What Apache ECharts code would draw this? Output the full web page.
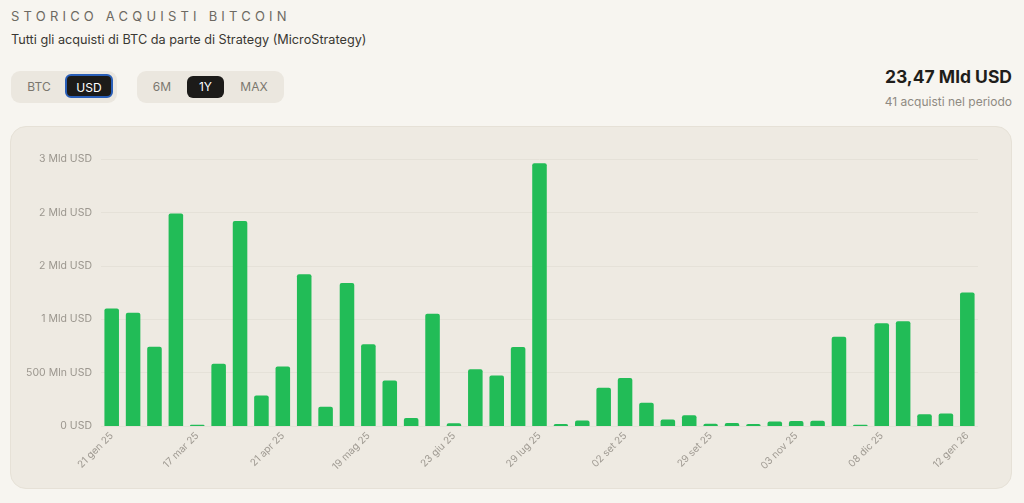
<!DOCTYPE html>
<html><head><meta charset="utf-8">
<script src="https://cdn.jsdelivr.net/npm/echarts@6/dist/echarts.min.js"></script>
<style>
html,body{margin:0;padding:0;width:1024px;height:503px;background:#f7f5f0;overflow:hidden;font-family:Inter,"Noto Sans",sans-serif;}
.abs{position:absolute;}
#title{left:11px;top:8px;font-size:13px;letter-spacing:4.2px;color:#6d6962;}
#sub{left:11px;top:32px;font-size:12.7px;color:#3a3833;}
.grp{position:absolute;top:71px;height:32px;background:#ebe7df;border-radius:9px;}
.btn{position:absolute;top:5px;height:22px;line-height:22px;font-size:12px;color:#7b776f;text-align:center;}
.on{background:#1c1b19;color:#fff;border-radius:6px;}
#total{right:12px;top:66px;font-size:17.5px;font-weight:700;color:#1f1e1b;}
#cnt{right:12px;top:94px;font-size:12px;color:#8f8a82;}
#card{left:10px;top:126px;width:1002px;height:363px;background:#eeeae2;border:1px solid #e6e1d7;border-radius:16px;box-sizing:border-box;}
#chart{left:0;top:0;width:1024px;height:503px;}
</style></head>
<body>
<div class="abs" id="title">STORICO ACQUISTI BITCOIN</div>
<div class="abs" id="sub">Tutti gli acquisti di BTC da parte di Strategy (MicroStrategy)</div>
<div class="grp" style="left:11px;width:106px;">
  <div class="btn" style="left:10px;width:36px;">BTC</div>
  <div class="btn on" style="left:54px;width:48px;top:3px;height:24px;line-height:24px;border:2px solid #2a5fb8;box-sizing:border-box;">USD</div>
</div>
<div class="grp" style="left:137px;width:147px;">
  <div class="btn" style="left:8px;width:34px;">6M</div>
  <div class="btn on" style="left:50px;width:37px;">1Y</div>
  <div class="btn" style="left:98px;width:38px;">MAX</div>
</div>
<div class="abs" id="total">23,47 Mld USD</div>
<div class="abs" id="cnt">41 acquisti nel periodo</div>
<div class="abs" id="card"></div>
<div class="abs" id="chart"></div>
<script>
const dates = ["21 gen 25","27 gen 25","10 feb 25","24 feb 25","17 mar 25","24 mar 25","31 mar 25","14 apr 25","21 apr 25","28 apr 25",
"05 mag 25","12 mag 25","19 mag 25","26 mag 25","02 giu 25","16 giu 25","23 giu 25","30 giu 25","14 lug 25","21 lug 25",
"29 lug 25","11 ago 25","18 ago 25","25 ago 25","02 set 25","08 set 25","15 set 25","22 set 25","29 set 25","13 ott 25",
"20 ott 25","27 ott 25","03 nov 25","10 nov 25","17 nov 25","01 dic 25","08 dic 25","15 dic 25","29 dic 25","05 gen 26","12 gen 26"];
// USD spent per purchase (billions)
const usdBillions = [1.10,1.06,0.742,1.99,0.0107,0.584,1.92,0.286,0.556,1.42,
0.180,1.34,0.765,0.427,0.075,1.05,0.026,0.532,0.473,0.740,
2.46,0.018,0.051,0.357,0.449,0.217,0.060,0.100,0.022,0.027,
0.019,0.043,0.046,0.050,0.836,0.012,0.963,0.980,0.109,0.116,1.25];
const yTicks = [0,5e8,1e9,1.5e9,2e9,2.5e9];

const chart = echarts.init(document.getElementById('chart'), null, {renderer:'canvas'});
chart.setOption({
  backgroundColor:'transparent',
  animation:false,
  grid:{left:101,right:46,top:159,bottom:77},
  xAxis:{type:'category',data:dates,
    axisLine:{show:false},axisTick:{show:false},
    axisLabel:{interval:3,rotate:45,fontSize:10,color:'#a09b93',margin:8,fontFamily:'Inter'}},
  yAxis:{type:'value',min:yTicks[0],max:yTicks[yTicks.length-1],interval:5e8,
    splitLine:{lineStyle:{color:'#e5e1d8',width:1}},
    axisLabel:{fontSize:10.5,color:'#9b968e',margin:9,fontFamily:'Inter',
      formatter:v=>v===0?'0 USD':(v<1e9?Math.round(v/1e6)+' Mln USD':Math.round(v/1e9)+' Mld USD')}},
  series:[{type:'bar',data:usdBillions.map(v=>v*1e9),barWidth:'68%',
    itemStyle:{color:'#22bc57',borderRadius:[2,2,0,0]}}]
});
</script>
</body></html>
